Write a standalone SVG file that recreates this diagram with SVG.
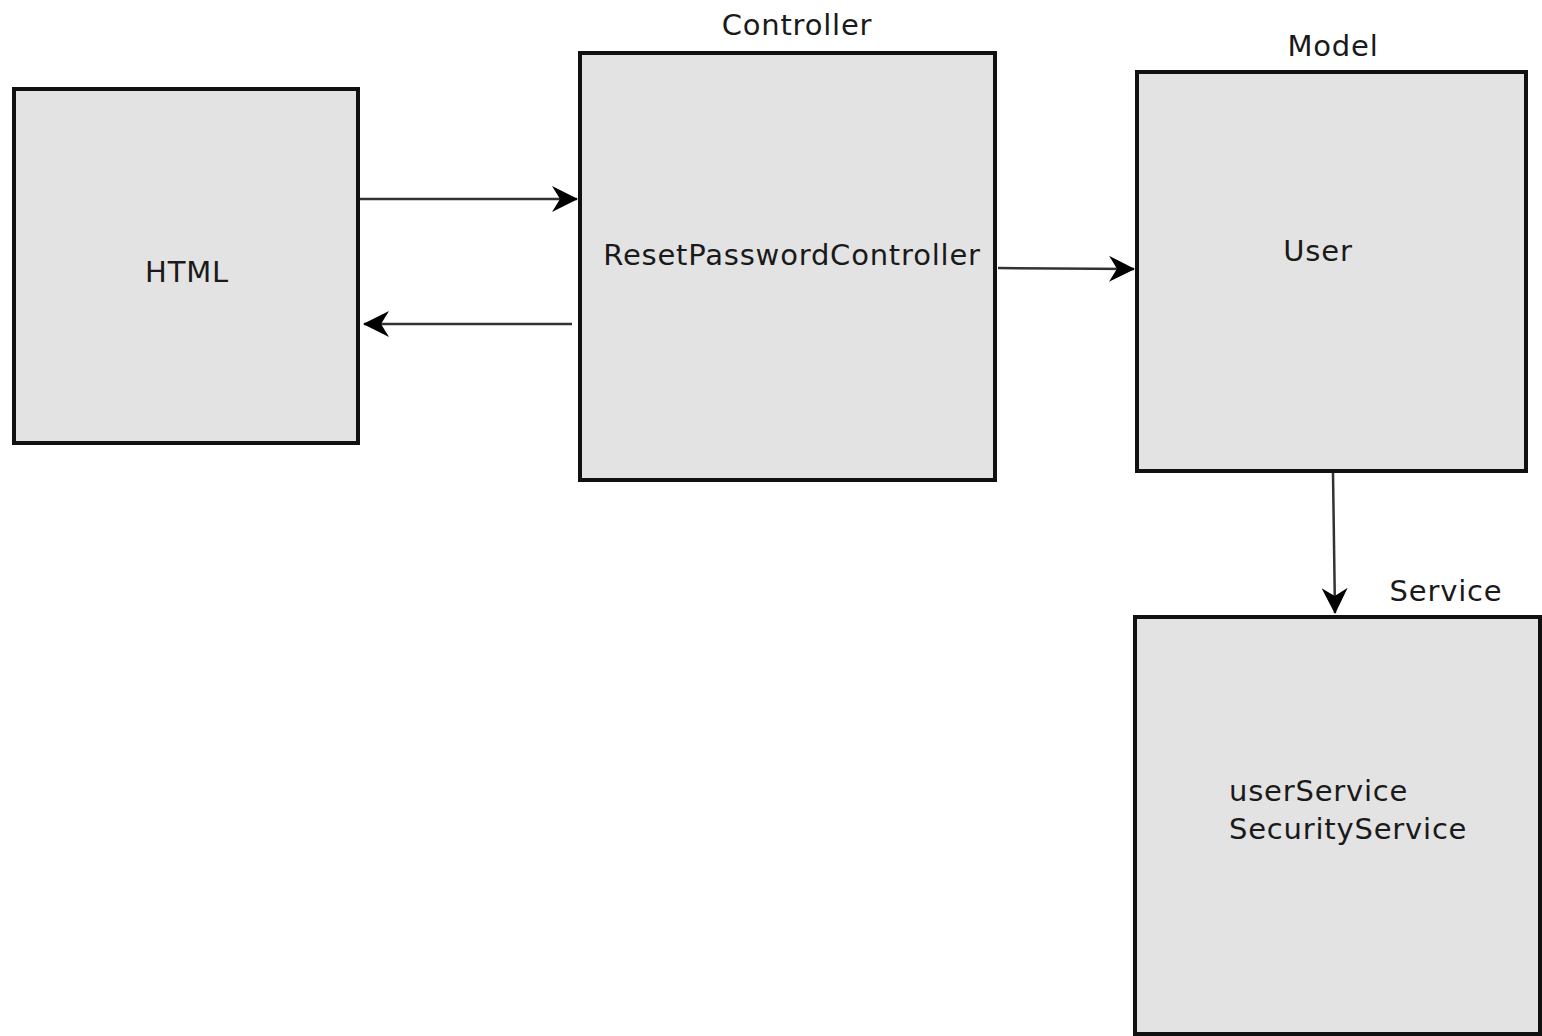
<svg xmlns="http://www.w3.org/2000/svg" width="1542" height="1036" viewBox="0 0 1542 1036">
<defs>
<style>
.box{fill:#e3e3e3;stroke:#111;stroke-width:4}
.t{font-family:"DejaVu Sans",sans-serif;font-size:29px;letter-spacing:0.8px;fill:#1a1a1a}
.c{stroke:#333;stroke-width:2.5;fill:none}
</style>
<marker id="ah" viewBox="0 0 26 26" refX="25" refY="13" markerWidth="26" markerHeight="26" markerUnits="userSpaceOnUse" orient="auto">
<path d="M0,0 L26,13 L0,26 L8,13 Z" fill="#000"/>
</marker>
</defs>
<rect width="1542" height="1036" fill="#fff"/>
<g id="html">
<rect class="box" x="14" y="89" width="344" height="354"/>
<text class="t" x="187" y="282" text-anchor="middle">HTML</text>
</g>
<g id="controller">
<rect class="box" x="580" y="53" width="415" height="427"/>
<text class="t" x="797" y="35" text-anchor="middle">Controller</text>
<text class="t" x="792" y="265" text-anchor="middle">ResetPasswordController</text>
</g>
<g id="model">
<rect class="box" x="1137" y="72" width="389" height="399"/>
<text class="t" x="1333" y="56" text-anchor="middle">Model</text>
<text class="t" x="1318" y="261" text-anchor="middle">User</text>
</g>
<g id="service">
<rect class="box" x="1135" y="617" width="405" height="417"/>
<text class="t" x="1446" y="601" text-anchor="middle">Service</text>
<text class="t" x="1229" y="801">userService</text>
<text class="t" x="1229" y="839">SecurityService</text>
</g>
<g id="connectors">
<line class="c" x1="360" y1="199" x2="577" y2="199" marker-end="url(#ah)"/>
<line class="c" x1="572" y1="324" x2="364" y2="324" marker-end="url(#ah)"/>
<line class="c" x1="998" y1="268" x2="1134" y2="269" marker-end="url(#ah)"/>
<line class="c" x1="1333" y1="473" x2="1335" y2="613" marker-end="url(#ah)"/>
</g>
</svg>
